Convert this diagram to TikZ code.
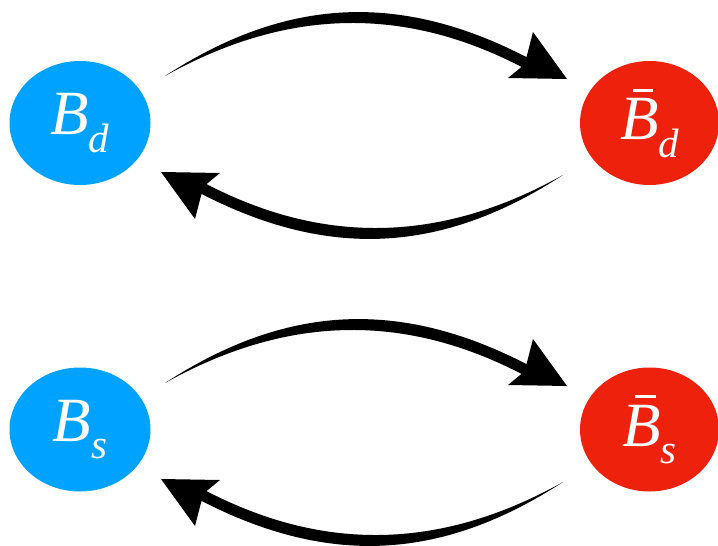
\documentclass[tikz,border=0pt]{standalone}
\usepackage{fontspec}
\setmainfont{Liberation Serif}
\usetikzlibrary{shapes.geometric,calc}
\definecolor{kblue}{HTML}{00A2FF}
\definecolor{kred}{HTML}{EE220C}
\newcommand\lblfont{\fontsize{63}{70}\selectfont\itshape}
\newcommand\subx[1]{\raisebox{-17.3pt}{\fontsize{41}{45}\selectfont\itshape #1}}
\newcommand\barB{\rlap{\hspace{0.2em}\raisebox{0.76em}{\rule{0.33em}{0.053em}}}B}
\tikzset{
  ball/.style={ellipse, minimum width=141pt, minimum height=124pt, inner sep=0pt,
    text=white, font=\lblfont},
  blueball/.style={ball, fill=kblue},
  redball/.style={ball, fill=kred, minimum width=139pt},
  tarrow/.pic={
    \fill[black] (0,0) .. controls (120,-78) and (233,-85) .. (361.5,-18.9)
      -- (368,-44) -- (402,3) -- (343,2) -- (356.5,-9.1)
      .. controls (237,-71) and (120,-67) .. (0,0) -- cycle;
  }
}
\begin{document}
\begin{tikzpicture}[x=1pt,y=-1pt]
\useasboundingbox (0,0) rectangle (718,546);
\node[blueball] (bd) at (80,123) {B\subx{d}};
\node[redball] (bdb) at (649.5,123) {\barB\subx{d}};
\node[blueball] (bs) at (80,429.5) {B\subx{s}};
\node[redball] (bsb) at (649.5,429.5) {\barB\subx{s}};
\coordinate (a1) at ($(bd)+(85,-47)$);
\coordinate (a2) at ($(bdb)+(-86.5,52)$);
\coordinate (a3) at ($(bs)+(85,-46.5)$);
\coordinate (a4) at ($(bsb)+(-86.5,52.5)$);
\pic at (a1) {tarrow};
\pic[rotate=180] at (a2) {tarrow};
\pic at (a3) {tarrow};
\pic[rotate=180] at (a4) {tarrow};
\end{tikzpicture}
\end{document}
